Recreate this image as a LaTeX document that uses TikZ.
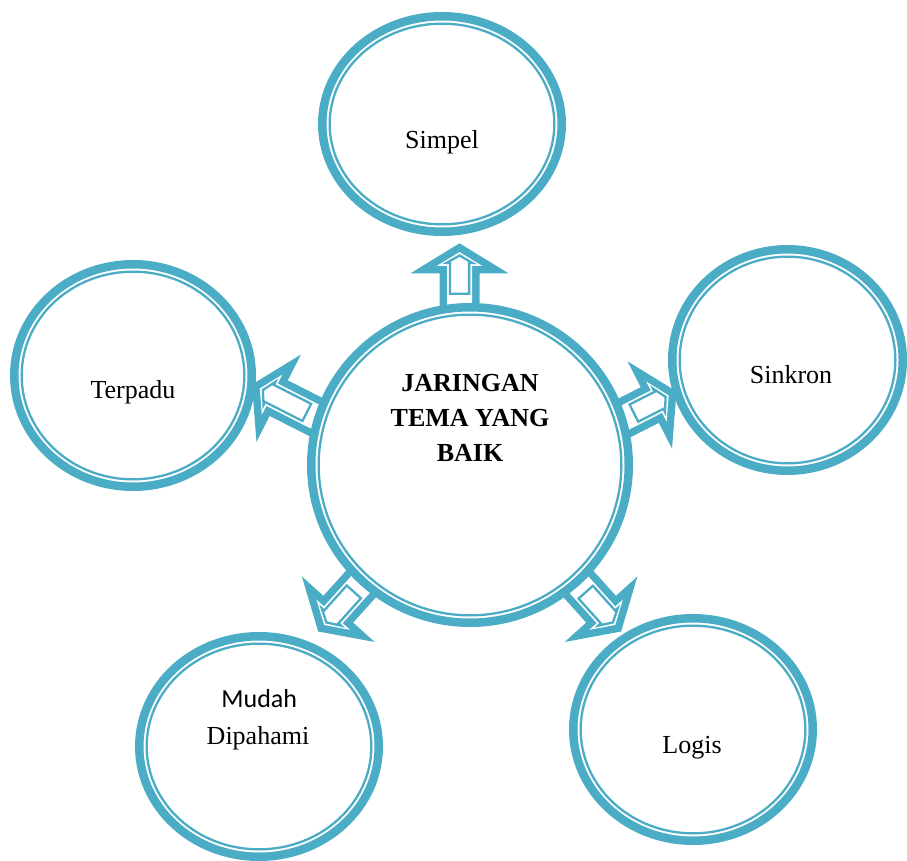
\documentclass[tikz,border=0pt]{standalone}
\usepackage{fontspec}
\setmainfont{Liberation Serif}
\newfontfamily\calibrifont{Carlito}
\definecolor{teal5}{HTML}{4BACC6}
\newcommand\myring[5]{%
  \coordinate (#1) at (#2,#3);
  \pgfmathsetmacro\rax{#4-4.25}\pgfmathsetmacro\ray{#5-4.25}%
  \pgfmathsetmacro\rbx{#4-11.65}\pgfmathsetmacro\rby{#5-11.65}%
  \draw[ringthick] (#1) ellipse [x radius=\rax pt, y radius=\ray pt];
  \draw[ringthin] (#1) ellipse [x radius=\rbx pt, y radius=\rby pt];
}
\begin{document}
\begin{tikzpicture}[x=1pt,y=-1pt,
  ringthick/.style={draw=teal5, line width=8.5pt, fill=white},
  ringthin/.style={draw=teal5, line width=2.3pt},
  lbl/.style={font=\fontsize{26}{35}\selectfont, inner sep=0pt, anchor=base},
  pics/blockarrow/.style={code={
    \fill[teal5] (0,0) -- (-30,49) -- (-30,20) -- (-95,20) -- (-95,-20) -- (-30,-20) -- (-30,-49) -- cycle;
    \fill[white] (-8.8,0) -- (-22.5,22.5) -- (-22.5,12.5) -- (-95,12.5) -- (-95,-12.5) -- (-22.5,-12.5) -- (-22.5,-22.5) -- cycle;
    \draw[teal5, line width=2.3pt, miter limit=10] (-12.2,0) -- (-19.6,13) -- (-19.6,9.6) -- (-#1,9.6) -- (-#1,-9.6) -- (-19.6,-9.6) -- (-19.6,-13) -- cycle;
  }}]
\useasboundingbox (0,0) rectangle (907,861);

% arrow tips
\coordinate (aS) at (459.5,243.3);
\coordinate (aK) at (676.5,391.4);
\coordinate (aT) at (252,384.5);
\coordinate (aM) at (318.2,631.5);
\coordinate (aL) at (621.1,631.5);

\pic[rotate=90]  at (aS) {blockarrow=50.5};
\pic[rotate=27]  at (aK) {blockarrow=47.8};
\pic[rotate=153] at (aT) {blockarrow=61.5};
\pic[rotate=228] at (aM) {blockarrow=53.3};
\pic[rotate=312] at (aL) {blockarrow=52.9};

% circles
\myring{C}{470}{465}{163}{162}
\myring{S}{442}{124}{124}{112}
\myring{K}{787.5}{360}{119.5}{115}
\myring{T}{133}{375.5}{123}{115.5}
\myring{M}{259}{746.5}{124}{114.5}
\myring{L}{693}{729.5}{124}{115.5}

% labels
\node[lbl, anchor=center, align=center, font=\fontsize{26}{35}\selectfont\bfseries] (tC) at (470,418) {JARINGAN\\TEMA YANG\\BAIK};
\node[lbl] (tS) at (442,148.5) {Simpel};
\node[lbl] (tK) at (791,383.5) {Sinkron};
\node[lbl] (tT) at (133,398.5) {Terpadu};
\node[lbl, font=\fontsize{26}{35}\selectfont\calibrifont] (tM1) at (259.2,707.3) {Mudah};
\node[lbl] (tM2) at (258,744.3) {Dipahami};
\node[lbl] (tL) at (692,753.5) {Logis};
\end{tikzpicture}
\end{document}
